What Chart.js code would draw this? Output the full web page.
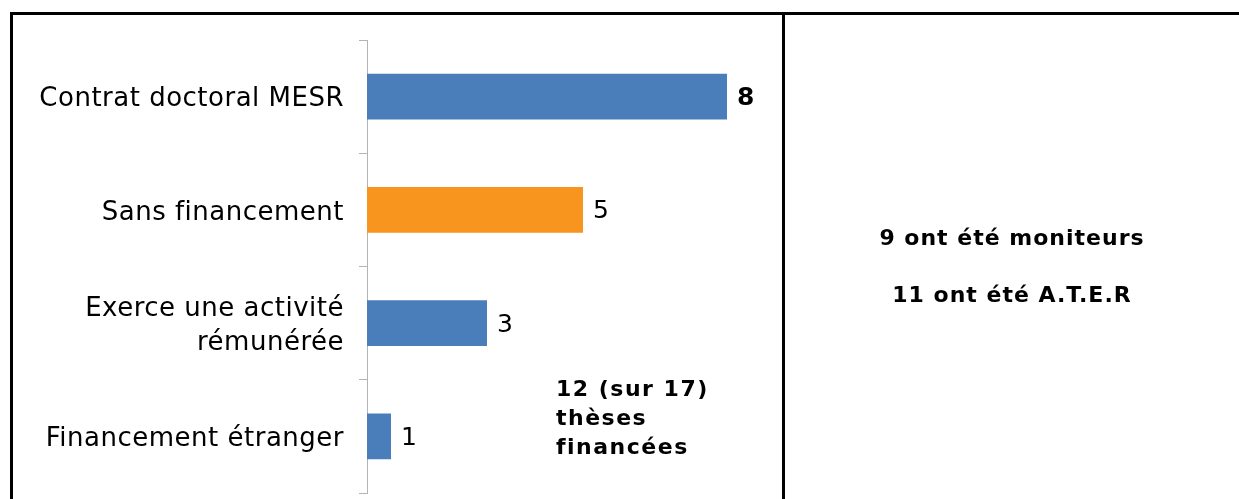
<!DOCTYPE html>
<html>
<head>
<meta charset="utf-8">
<script src="https://cdn.jsdelivr.net/npm/chart.js@4.4.1/dist/chart.umd.min.js"></script>
<style>
  html, body { margin: 0; padding: 0; background: #fff; }
  body { width: 1239px; height: 499px; position: relative; overflow: hidden; font-family: "DejaVu Sans", Verdana, sans-serif; }
  #wrap { position: absolute; left: 0; top: 0; width: 1239px; height: 499px; }
  .line { position: absolute; background: #000; }
  .note { position: absolute; font-weight: bold; color: #000; font-size: 22px; letter-spacing: 1px; }
</style>
</head>
<body>
<div id="wrap"><canvas id="c" width="1239" height="499"></canvas></div>
<div class="line" style="left:10px; top:12px; width:1229px; height:3px;"></div>
<div class="line" style="left:10px; top:12px; width:3px; height:487px;"></div>
<div class="line" style="left:782px; top:12px; width:3px; height:487px;"></div>
<div class="note" style="left:556px; top:374px; line-height:29px; letter-spacing:1.5px;">12 (sur 17)<br>thèses<br>financées</div>
<div class="note" style="left:785px; width:454px; top:225px; text-align:center;">9 ont été moniteurs</div>
<div class="note" style="left:785px; width:454px; top:282px; text-align:center;">11 ont été A.T.E.R</div>
<script>
const categories = ["Contrat doctoral MESR", "Sans financement", ["Exerce une activité", "rémunérée"], "Financement étranger"];
const values = [8, 5, 3, 1];
const barColors = ["#4a7ebb", "#f7951f", "#4a7ebb", "#4a7ebb"];
const boldLabel = [true, false, false, false];

const spacing = {
  id: 'spacing',
  beforeUpdate(chart) { chart.ctx.letterSpacing = '0.5px'; },
  afterLayout(chart) {
    const s = chart.scales.y;
    if (!s._shifted) {
      const orig = s.drawLabels.bind(s);
      s.drawLabels = function (area) {
        const ctx = chart.ctx;
        ctx.save();
        ctx.letterSpacing = '0.5px';
        ctx.translate(0, 3);
        orig(area);
        ctx.restore();
      };
      s._shifted = true;
    }
  }
};

const valueLabels = {
  id: 'valueLabels',
  afterDatasetsDraw(chart) {
    const ctx = chart.ctx;
    const meta = chart.getDatasetMeta(0);
    ctx.save();
    ctx.letterSpacing = '0px';
    ctx.fillStyle = '#000';
    ctx.textBaseline = 'middle';
    ctx.textAlign = 'left';
    meta.data.forEach((bar, i) => {
      ctx.font = (boldLabel[i] ? 'bold ' : '') + '25px "DejaVu Sans", Verdana, sans-serif';
      ctx.fillText(String(values[i]), bar.x + 10, bar.y + 2);
    });
    ctx.restore();
  }
};

new Chart(document.getElementById('c'), {
  type: 'bar',
  data: {
    labels: categories,
    datasets: [{ data: values, backgroundColor: barColors, borderWidth: 0, barPercentage: 0.406, categoryPercentage: 1 }]
  },
  options: {
    indexAxis: 'y',
    responsive: false,
    animation: false,
    layout: { padding: { left: 12, right: 464, top: 40, bottom: 6 } },
    plugins: { legend: { display: false }, tooltip: { enabled: false } },
    scales: {
      x: { display: false, min: 0.5, max: 9 },
      y: {
        afterFit(scale) { scale.width = 355; scale.paddingTop = 0; scale.paddingBottom = 0; },
        grid: { offset: true, drawOnChartArea: false, drawTicks: true, tickLength: 8, color: '#b4b4b4', lineWidth: 1 },
        border: { display: true, color: '#b4b4b4', width: 1 },
        ticks: { color: '#000', padding: 15, font: { family: '"DejaVu Sans", Verdana, sans-serif', size: 26, lineHeight: 1.31 } }
      }
    }
  },
  plugins: [spacing, valueLabels]
});
</script>
</body>
</html>
